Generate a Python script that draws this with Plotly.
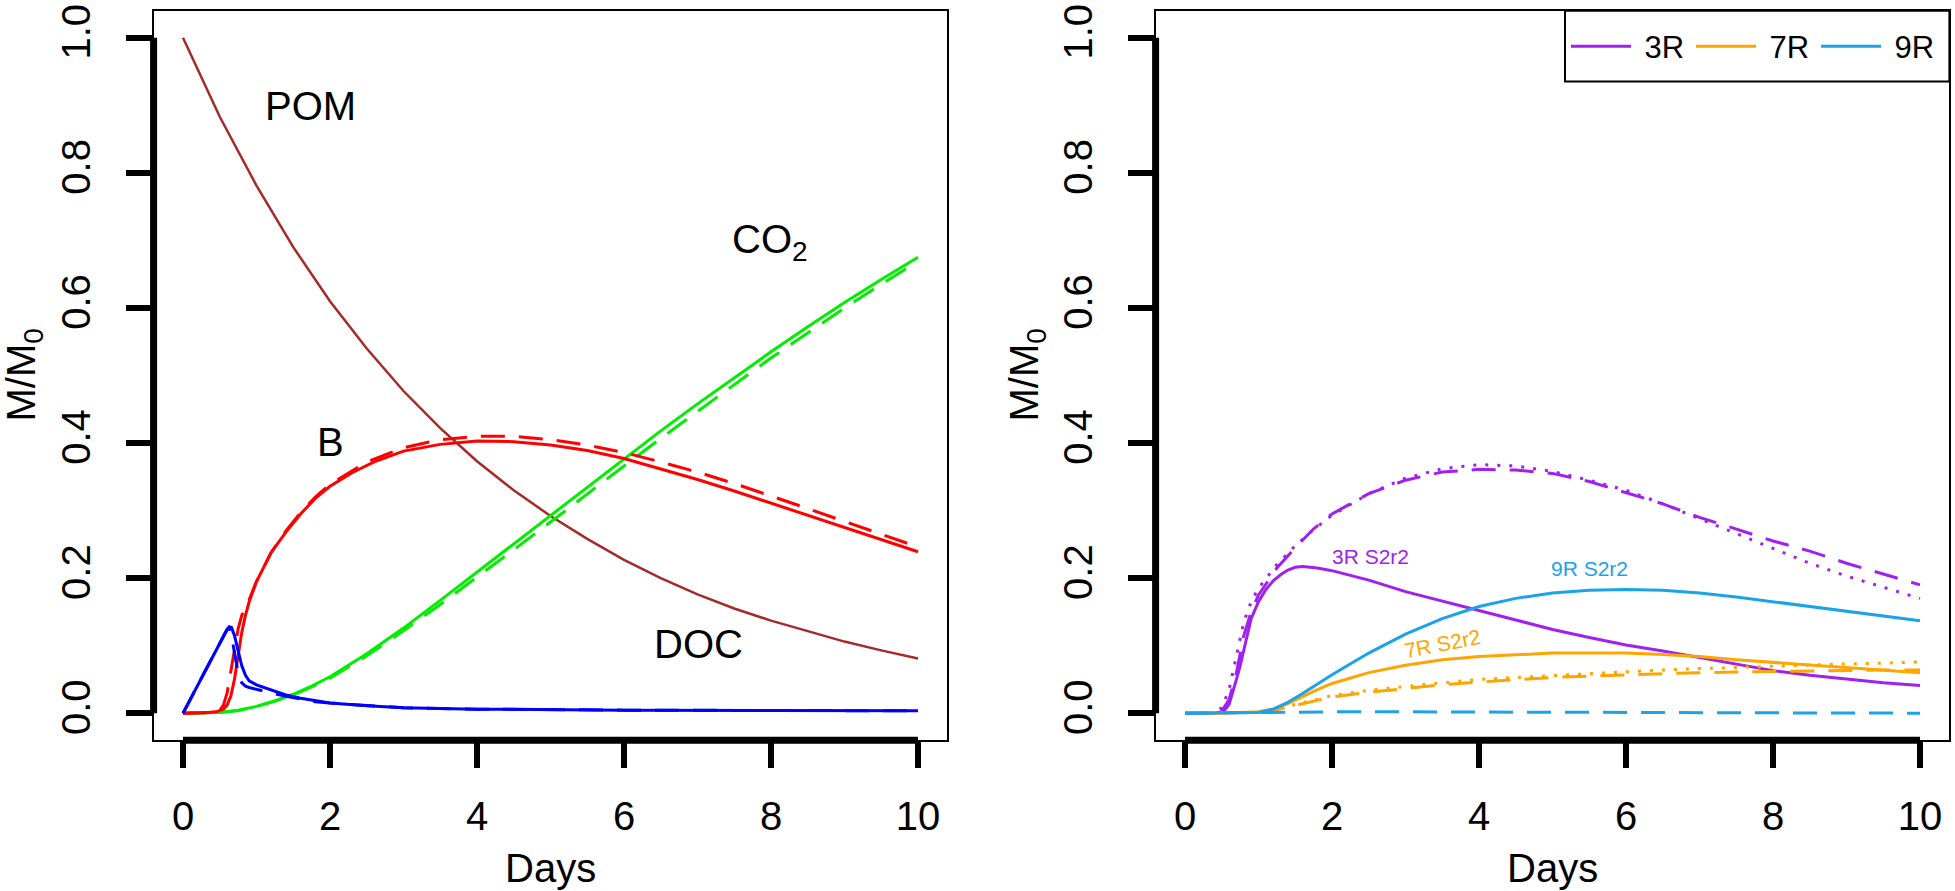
import plotly.graph_objects as go

# ---------------- Left panel data ----------------
t_pom = [0, 0.5, 1, 1.5, 2, 2.5, 3, 3.5, 4, 4.5, 5, 5.5, 6, 6.5, 7, 7.5, 8, 8.5, 9, 9.5, 10]
pom = [1.0, 0.883, 0.781, 0.690, 0.610, 0.540, 0.477, 0.422, 0.373, 0.330, 0.292, 0.258, 0.227,
       0.200, 0.176, 0.155, 0.137, 0.121, 0.106, 0.093, 0.081]

t_b = [0, 0.3, 0.45, 0.55, 0.6, 0.65, 0.7, 0.75, 0.8, 0.85, 0.9, 1.0, 1.2, 1.4, 1.6, 1.8, 2.0, 2.3,
       2.6, 3.0, 3.5, 4.0, 4.5, 5.0, 5.5, 6.0, 6.5, 7.0, 7.5, 8.0, 8.5, 9.0, 9.5, 10]
b_solid = [0, 0.0005, 0.002, 0.006, 0.012, 0.025, 0.05, 0.085, 0.12, 0.145, 0.165, 0.195, 0.238,
           0.268, 0.295, 0.318, 0.336, 0.356, 0.372, 0.388, 0.398, 0.403, 0.402, 0.397, 0.389,
           0.377, 0.362, 0.346, 0.329, 0.311, 0.293, 0.275, 0.257, 0.239]
t_b2 = [0, 0.4, 0.5, 0.55, 0.6, 0.65, 0.7, 0.75, 0.8, 0.9, 1.0, 1.2, 1.4, 1.6, 1.8, 2.0, 2.5, 3.0,
        3.5, 4.0, 4.5, 5.0, 5.5, 6.0, 6.5, 7.0, 7.5, 8.0, 8.5, 9.0, 9.5, 10]
b_dash = [0, 0.001, 0.004, 0.012, 0.03, 0.06, 0.095, 0.125, 0.145, 0.168, 0.195, 0.238, 0.27,
          0.297, 0.32, 0.339, 0.372, 0.393, 0.405, 0.41, 0.41, 0.405, 0.397, 0.386, 0.372, 0.357,
          0.34, 0.322, 0.303, 0.284, 0.265, 0.246]

t_doc = [0, 0.3, 0.5, 0.6, 0.63, 0.66, 0.7, 0.75, 0.8, 0.85, 0.9, 1.0, 1.2, 1.4, 1.6, 1.8, 2.0,
         2.5, 3.0, 4.0, 5.0, 6.0, 8.0, 10]
doc_solid = [0, 0.062, 0.104, 0.124, 0.128, 0.127, 0.115, 0.092, 0.07, 0.056, 0.048, 0.042, 0.034,
             0.027, 0.022, 0.018, 0.015, 0.011, 0.008, 0.006, 0.005, 0.0045, 0.004, 0.0035]
doc_dash = [0, 0.062, 0.104, 0.124, 0.126, 0.115, 0.09, 0.06, 0.045, 0.04, 0.038, 0.035, 0.03,
            0.025, 0.021, 0.017, 0.015, 0.011, 0.008, 0.006, 0.005, 0.0045, 0.004, 0.0035]

t_co2 = [0, 0.5, 0.75, 1.0, 1.25, 1.5, 1.75, 2, 2.5, 3, 3.5, 4, 4.5, 5, 5.5, 6, 6.5, 7, 7.5, 8,
         8.5, 9, 9.5, 10]
co2_solid = [0, 0.001, 0.004, 0.01, 0.018, 0.028, 0.04, 0.054, 0.088, 0.126, 0.167, 0.209, 0.251,
             0.293, 0.335, 0.377, 0.418, 0.458, 0.497, 0.535, 0.572, 0.608, 0.642, 0.675]
co2_dash = [0, 0.001, 0.004, 0.01, 0.018, 0.027, 0.039, 0.052, 0.085, 0.122, 0.161, 0.201, 0.242,
            0.283, 0.325, 0.366, 0.407, 0.447, 0.487, 0.526, 0.563, 0.600, 0.635, 0.669]

# ---------------- Right panel data ----------------
t_3r = [0, 0.4, 0.5, 0.55, 0.6, 0.65, 0.7, 0.75, 0.8, 0.85, 0.9, 1.0, 1.1, 1.2, 1.3, 1.4, 1.5,
        1.6, 1.8, 2.0, 2.5, 3.0, 3.5, 4.0, 4.5, 5.0, 5.5, 6.0, 6.5, 7.0, 7.5, 8.0, 8.5, 9.0, 9.5, 10]
r3_solid = [0, 0, 0.002, 0.006, 0.013, 0.03, 0.05, 0.07, 0.095, 0.12, 0.14, 0.165, 0.183, 0.196,
            0.205, 0.212, 0.216, 0.217, 0.215, 0.211, 0.197, 0.18, 0.166, 0.153, 0.138, 0.124,
            0.112, 0.101, 0.092, 0.082, 0.072, 0.063, 0.056, 0.05, 0.045, 0.041]
t_3r_b = [0, 0.4, 0.5, 0.6, 0.7, 0.8, 0.9, 1.0, 1.25, 1.5, 1.75, 2.0, 2.5, 3.0, 3.5, 4.0, 4.5,
          5.0, 5.5, 6.0, 6.5, 7.0, 7.5, 8.0, 8.5, 9.0, 9.5, 10]
r3_dash = [0, 0, 0.003, 0.02, 0.06, 0.115, 0.15, 0.175, 0.215, 0.245, 0.273, 0.295, 0.325, 0.345,
           0.357, 0.361, 0.36, 0.355, 0.343, 0.327, 0.31, 0.29, 0.272, 0.255, 0.24, 0.222, 0.206,
           0.19]
r3_dot = [0, 0, 0.008, 0.035, 0.085, 0.135, 0.165, 0.185, 0.22, 0.248, 0.272, 0.293, 0.325, 0.348,
          0.362, 0.368, 0.366, 0.358, 0.345, 0.33, 0.31, 0.288, 0.265, 0.243, 0.222, 0.203, 0.186,
          0.17]

t_7r = [0, 0.5, 1.0, 1.2, 1.4, 1.6, 1.8, 2.0, 2.5, 3.0, 3.5, 4.0, 4.5, 5.0, 5.5, 6.0, 6.5, 7.0,
        7.5, 8.0, 8.5, 9.0, 9.5, 10]
r7_solid = [0, 0, 0.002, 0.006, 0.014, 0.025, 0.035, 0.044, 0.06, 0.071, 0.079, 0.084, 0.087,
            0.089, 0.089, 0.089, 0.087, 0.084, 0.079, 0.075, 0.071, 0.067, 0.063, 0.06]
r7_dash = [0, 0, 0.001, 0.004, 0.009, 0.014, 0.019, 0.024, 0.031, 0.037, 0.042, 0.046, 0.05,
           0.053, 0.055, 0.057, 0.059, 0.06, 0.061, 0.062, 0.063, 0.063, 0.064, 0.064]
r7_dot = [0, 0, 0.001, 0.005, 0.01, 0.016, 0.021, 0.026, 0.034, 0.04, 0.045, 0.05, 0.053, 0.056,
          0.059, 0.061, 0.064, 0.066, 0.068, 0.07, 0.071, 0.073, 0.074, 0.076]

t_9r = [0, 1.0, 1.2, 1.4, 1.6, 1.8, 2.0, 2.5, 3.0, 3.5, 4.0, 4.5, 5.0, 5.5, 6.0, 6.5, 7.0, 7.5,
        8.0, 8.5, 9.0, 9.5, 10]
r9_solid = [0, 0.001, 0.006, 0.016, 0.029, 0.043, 0.057, 0.089, 0.117, 0.14, 0.158, 0.17, 0.178,
            0.182, 0.183, 0.182, 0.178, 0.172, 0.165, 0.158, 0.151, 0.144, 0.137]
t_9r_b = [0, 1.0, 1.5, 2.0, 3.0, 4.0, 6.0, 8.0, 10]
r9_dash = [0, 0.001, 0.002, 0.002, 0.002, 0.0015, 0.001, 0.0005, 0.0]

x_ticks = [0, 2, 4, 6, 8, 10]
y_ticks = [0.0, 0.2, 0.4, 0.6, 0.8, 1.0]
legend_names = ["3R", "7R", "9R"]

# ---------------- styles ----------------
FONT = "Liberation Sans, Arial, Helvetica, sans-serif"
BROWN, RED, GREEN, BLUE = "#A52A2A", "#FF0000", "#00EE00", "#0000FF"
PURPLE, ORANGE, SKY = "#A020F0", "#FFA500", "#1AA3E8"
DASH = "24px,14px"
DOT = "3px,9px"
LW = 3
GAP = "\u00a0"

fig = go.Figure()


def add(x, y, color, dash="solid", xa="x", ya="y", name=None, legend=False, width=LW):
    fig.add_trace(go.Scatter(x=x, y=y, mode="lines", xaxis=xa, yaxis=ya, name=name,
                             showlegend=legend,
                             line=dict(color=color, width=width, dash=dash)))


# left panel
add(t_pom, pom, BROWN, width=2.5)
add(t_co2, co2_solid, GREEN)
add(t_co2, co2_dash, GREEN, DASH)
add(t_b, b_solid, RED)
add(t_b2, b_dash, RED, DASH)
add(t_doc, doc_solid, BLUE)
add(t_doc, doc_dash, BLUE, DASH)

# right panel
add(t_3r, r3_solid, PURPLE, xa="x2", ya="y2", name=GAP + legend_names[0], legend=True)
add(t_3r_b, r3_dash, PURPLE, DASH, "x2", "y2")
add(t_3r_b, r3_dot, PURPLE, DOT, "x2", "y2")
add(t_7r, r7_solid, ORANGE, xa="x2", ya="y2", name=GAP + legend_names[1], legend=True)
add(t_7r, r7_dash, ORANGE, DASH, "x2", "y2")
add(t_7r, r7_dot, ORANGE, DOT, "x2", "y2")
add(t_9r, r9_solid, SKY, xa="x2", ya="y2", name=GAP + legend_names[2], legend=True)
add(t_9r_b, r9_dash, SKY, DASH, "x2", "y2")

W, H = 1955, 891
ydom = [152 / H, 887.2 / H]
xdom1 = [153.6 / W, 947.4 / W]
xdom2 = [1155.6 / W, 1949.4 / W]

axis_common = dict(showgrid=False, zeroline=False, showline=True, mirror=True, linecolor="black",
                   linewidth=2, ticks="outside", ticklen=26, tickwidth=6, tickcolor="black",
                   ticklabeloverflow="allow",
                   tickfont=dict(family=FONT, size=40, color="black"))

fig.update_layout(
    width=W, height=H, margin=dict(l=0, r=0, t=0, b=0),
    paper_bgcolor="white", plot_bgcolor="white",
    font=dict(family=FONT, color="black"),
    xaxis=dict(domain=xdom1, anchor="y", range=[-0.4, 10.4], tickvals=x_ticks,
               ticklabelstandoff=14, **axis_common),
    yaxis=dict(domain=ydom, anchor="x", range=[-0.04, 1.04], tickvals=y_ticks, tickformat=".1f",
               tickangle=-90, ticklabelstandoff=20, **axis_common),
    xaxis2=dict(domain=xdom2, anchor="y2", range=[-0.4, 10.4], tickvals=x_ticks,
                ticklabelstandoff=14, **axis_common),
    yaxis2=dict(domain=ydom, anchor="x2", range=[-0.04, 1.04], tickvals=y_ticks, tickformat=".1f",
                tickangle=-90, ticklabelstandoff=20, **axis_common),
    legend=dict(orientation="h", x=1566 / W, y=(H - 40) / H, xanchor="left", yanchor="middle",
                bgcolor="rgba(0,0,0,0)", borderwidth=0,
                font=dict(family=FONT, size=31, color="black"), itemwidth=60, entrywidth=50),
)

# legend frame (R-style box sharing the plot border)
fig.add_shape(type="rect", xref="paper", yref="paper", x0=1565 / W, x1=xdom2[1],
              y0=(H - 75) / H, y1=ydom[1], fillcolor="white", layer="above",
              line=dict(color="black", width=2))

# thick R-style axis lines spanning the tick range
for xa, ya in (("x", "y"), ("x2", "y2")):
    fig.add_shape(type="line", xref=xa, yref=ya + " domain", x0=x_ticks[0], x1=x_ticks[-1],
                  y0=0, y1=0, line=dict(color="black", width=7))
    fig.add_shape(type="line", xref=xa + " domain", yref=ya, x0=0, x1=0, y0=y_ticks[0],
                  y1=y_ticks[-1], line=dict(color="black", width=7))

# axis titles
for xa, ya, xpix in (("x", "y", 24), ("x2", "y2", 1027)):
    fig.add_annotation(text="Days", xref=xa + " domain", yref="paper", x=0.5, y=(H - 868) / H,
                       showarrow=False, font=dict(family=FONT, size=40, color="black"),
                       xanchor="center", yanchor="middle")
    fig.add_annotation(text="M/M<sub>0</sub>", xref="paper", yref=ya, x=xpix / W, y=0.5,
                       textangle=-90, showarrow=False,
                       font=dict(family=FONT, size=40, color="black"),
                       xanchor="center", yanchor="middle")

# curve labels, left panel
for txt, x, y in (("POM", 1.73, 0.899), ("B", 2.0, 0.402), ("CO<sub>2</sub>", 7.99, 0.697),
                  ("DOC", 7.01, 0.102)):
    fig.add_annotation(text=txt, x=x, y=y, xref="x", yref="y", showarrow=False,
                       font=dict(family=FONT, size=40, color="black"))

# curve labels, right panel
for txt, x, y, col, ang in (("3R S2r2", 2.52, 0.232, PURPLE, 0), ("9R S2r2", 5.5, 0.214, SKY, 0),
                            ("7R S2r2", 3.51, 0.103, ORANGE, -11)):
    fig.add_annotation(text=txt, x=x, y=y, xref="x2", yref="y2", showarrow=False, textangle=ang,
                       font=dict(family=FONT, size=21, color=col))

fig.write_html("out.html", config={"displayModeBar": False},
               post_script="document.body.style.margin='0';document.body.style.overflow='hidden';")
